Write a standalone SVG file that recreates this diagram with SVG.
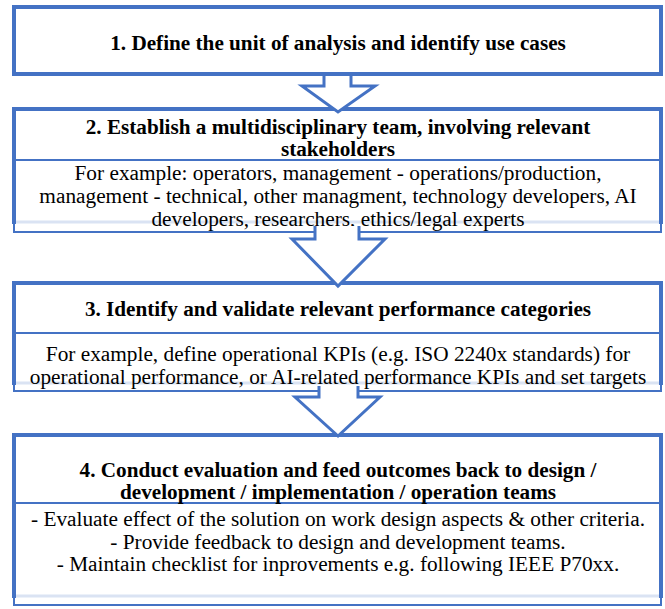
<svg xmlns="http://www.w3.org/2000/svg" width="665" height="609" viewBox="0 0 665 609">
<style>
.thick{fill:none;stroke:#4472C4;stroke-width:4}
.thin{fill:none;stroke:#4472C4;stroke-width:2}
.band{stroke:#DAE3F3;stroke-width:3}
.arrow{fill:#FFFFFF;stroke:#4472C4;stroke-width:3;stroke-linejoin:miter}
.h{font-family:"Liberation Serif","DejaVu Serif",serif;font-weight:bold;font-size:21.2px;fill:#000;text-anchor:middle}
.b{font-family:"Liberation Serif","DejaVu Serif",serif;font-size:21.3px;fill:#000;text-anchor:middle}
</style>
<rect width="665" height="609" fill="#FFFFFF"/>
<g id="node1">
<rect class="thick" x="14" y="7" width="647" height="67"/>
<text class="h" x="338" y="50">1. Define the unit of analysis and identify use cases</text>
</g>
<g id="node2">
<line class="band" x1="16" y1="222" x2="659" y2="222"/>
<path class="thick" d="M14,224 V109 H661 V224"/>
<rect class="thin" x="14" y="160" width="647" height="72"/>
<text class="h" x="338" y="134">2. Establish a multidisciplinary team, involving relevant</text>
<text class="h" x="338" y="156">stakeholders</text>
<text class="b" x="338" y="180">For example: operators, management - operations/production,</text>
<text class="b" x="338" y="203">management - technical, other managment, technology developers, AI</text>
<text class="b" x="338" y="226">developers, researchers, ethics/legal experts</text>
</g>
<g id="node3">
<line class="band" x1="16" y1="383" x2="659" y2="383"/>
<path class="thick" d="M14,385 V283 H661 V385"/>
<rect class="thin" x="14" y="333" width="647" height="58"/>
<text class="h" x="338" y="316">3. Identify and validate relevant performance categories</text>
<text class="b" x="338" y="361">For example, define operational KPIs (e.g. ISO 2240x standards) for</text>
<text class="b" x="338" y="384">operational performance, or AI-related performance KPIs and set targets</text>
</g>
<g id="node4">
<line class="band" x1="16" y1="596" x2="659" y2="596"/>
<path class="thick" d="M14,598 V435 H661 V598"/>
<rect class="thin" x="14" y="503" width="647" height="102"/>
<text class="h" x="338" y="477">4. Conduct evaluation and feed outcomes back to design /</text>
<text class="h" x="338" y="499">development / implementation / operation teams</text>
<text class="b" x="338" y="526">- Evaluate effect of the solution on work design aspects &amp; other criteria.</text>
<text class="b" x="338" y="549">- Provide feedback to design and development teams.</text>
<text class="b" x="338" y="571">- Maintain checklist for inprovements e.g. following IEEE P70xx.</text>
</g>
<g id="connectors">
<path class="arrow" d="M324,76 V86 H302 L338,112 L375,86 H351 V76"/>
<path class="arrow" d="M315,226 V239 H292 L338,286 L385,239 H359 V226"/>
<path class="arrow" d="M319,386 V397 H295 L338,436 L380,397 H358 V386"/>
</g>
</svg>
